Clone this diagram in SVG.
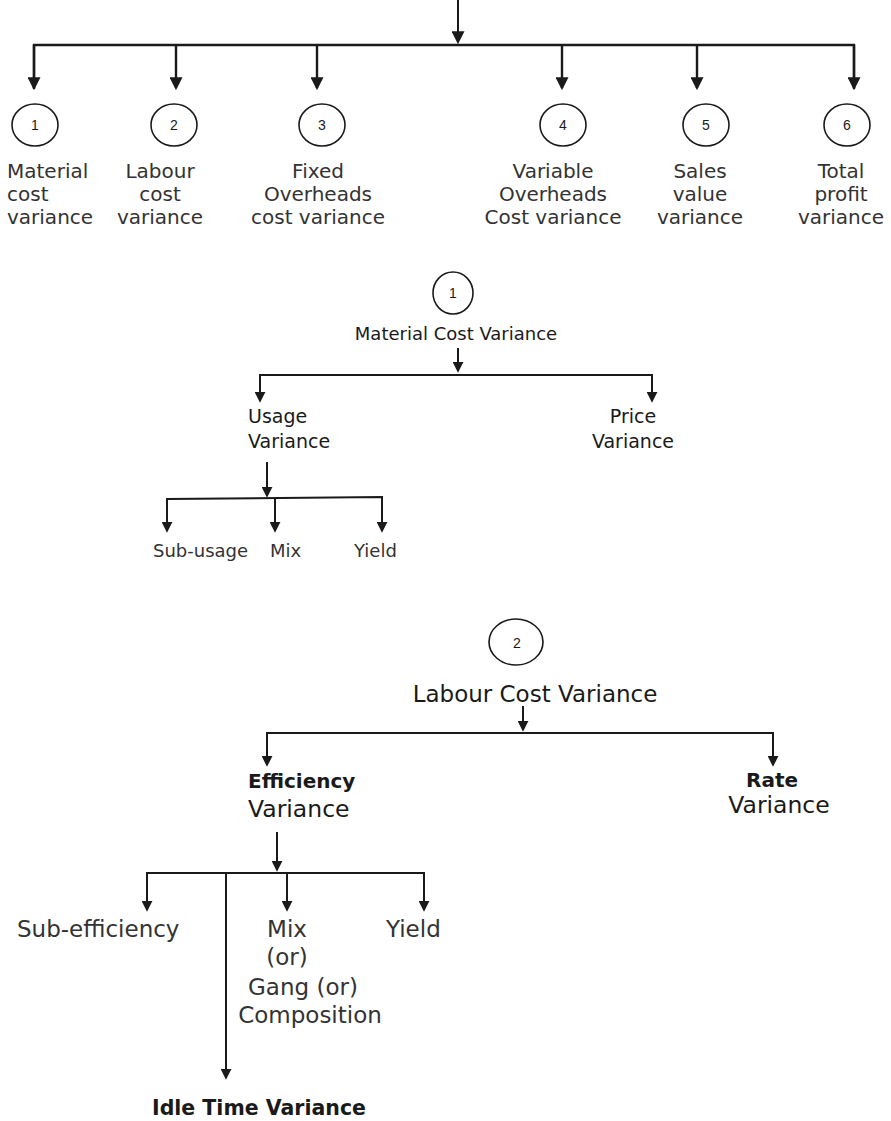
<svg xmlns="http://www.w3.org/2000/svg" width="891" height="1121" viewBox="0 0 891 1121">
<style>
.c{fill:none;stroke:#1a1a1a;stroke-width:1.6}
.ln{fill:none;stroke:#1a1a1a;stroke-width:2}
.lb{stroke-width:2.4}
.n{font-family:"Liberation Sans",Arial,sans-serif;fill:#1a1a1a;text-anchor:middle}
.l{font-family:"DejaVu Sans",sans-serif;fill:#333}
.m{font-family:"DejaVu Sans",sans-serif;fill:#1a1a1a}
.b{font-family:"DejaVu Sans",sans-serif;font-weight:bold;fill:#1a1a1a}
.mid{text-anchor:middle}
</style>
<defs>
<marker id="ah" viewBox="0 0 12 12" markerWidth="13" markerHeight="13" refX="10" refY="6" orient="auto" markerUnits="userSpaceOnUse"><path d="M0,0 L12,6 L0,12 z" fill="#1a1a1a"/></marker>
<marker id="as" viewBox="0 0 12 12" markerWidth="11" markerHeight="11" refX="10" refY="6" orient="auto" markerUnits="userSpaceOnUse"><path d="M0,0 L12,6 L0,12 z" fill="#1a1a1a"/></marker>
</defs>
<g id="connectors">
<path class="ln" d="M458,0 V42" marker-end="url(#ah)"/>
<path class="ln lb" d="M34,89 V45 H854 V89"/>
<path class="ln lb" d="M34,45 V88" marker-end="url(#ah)"/>
<path class="ln lb" d="M176,45 V88" marker-end="url(#ah)"/>
<path class="ln lb" d="M317,45 V88" marker-end="url(#ah)"/>
<path class="ln lb" d="M562,45 V88" marker-end="url(#ah)"/>
<path class="ln lb" d="M697,45 V88" marker-end="url(#ah)"/>
<path class="ln lb" d="M854,45 V88" marker-end="url(#ah)"/>
<path class="ln" d="M458,348 V371" marker-end="url(#as)"/>
<path class="ln" d="M260,401 V375 H652 V401"/>
<path class="ln" d="M260,375 V401" marker-end="url(#as)"/>
<path class="ln" d="M652,375 V401" marker-end="url(#as)"/>
<path class="ln" d="M267,462 V496" marker-end="url(#as)"/>
<path class="ln" d="M167,531 V499 L382,497 V531"/>
<path class="ln" d="M167,499 V531" marker-end="url(#as)"/>
<path class="ln" d="M275,498 V531" marker-end="url(#as)"/>
<path class="ln" d="M382,497 V531" marker-end="url(#as)"/>
<path class="ln" d="M523,706 V730" marker-end="url(#as)"/>
<path class="ln" d="M267,765 V733 H773 V765"/>
<path class="ln" d="M267,733 V765" marker-end="url(#as)"/>
<path class="ln" d="M773,733 V765" marker-end="url(#as)"/>
<path class="ln" d="M277,832 V870" marker-end="url(#as)"/>
<path class="ln" d="M147,910 V873 H424 V910"/>
<path class="ln" d="M147,873 V910" marker-end="url(#as)"/>
<path class="ln" d="M287,873 V910" marker-end="url(#as)"/>
<path class="ln" d="M424,873 V910" marker-end="url(#as)"/>
<path class="ln" d="M226,873 V1078" marker-end="url(#as)"/>
</g>
<g id="n1"><ellipse class="c" cx="35" cy="125" rx="23" ry="21"/><text class="n" x="35" y="130" font-size="14">1</text>
<text class="l" x="7" y="178" font-size="20">Material</text><text class="l" x="7" y="201" font-size="20">cost</text><text class="l" x="7" y="224" font-size="20">variance</text></g>
<g id="n2"><ellipse class="c" cx="174" cy="125" rx="23" ry="21"/><text class="n" x="174" y="130" font-size="14">2</text>
<text class="l mid" x="160" y="178" font-size="20">Labour</text><text class="l mid" x="160" y="201" font-size="20">cost</text><text class="l mid" x="160" y="224" font-size="20">variance</text></g>
<g id="n3"><ellipse class="c" cx="322" cy="125" rx="23" ry="21"/><text class="n" x="322" y="130" font-size="14">3</text>
<text class="l mid" x="318" y="178" font-size="20">Fixed</text><text class="l mid" x="318" y="201" font-size="20">Overheads</text><text class="l mid" x="318" y="224" font-size="20">cost variance</text></g>
<g id="n4"><ellipse class="c" cx="563" cy="125" rx="23" ry="21"/><text class="n" x="563" y="130" font-size="14">4</text>
<text class="l mid" x="553" y="178" font-size="20">Variable</text><text class="l mid" x="553" y="201" font-size="20">Overheads</text><text class="l mid" x="553" y="224" font-size="20">Cost variance</text></g>
<g id="n5"><ellipse class="c" cx="706" cy="125" rx="23" ry="21"/><text class="n" x="706" y="130" font-size="14">5</text>
<text class="l mid" x="700" y="178" font-size="20">Sales</text><text class="l mid" x="700" y="201" font-size="20">value</text><text class="l mid" x="700" y="224" font-size="20">variance</text></g>
<g id="n6"><ellipse class="c" cx="847" cy="125" rx="23" ry="21"/><text class="n" x="847" y="130" font-size="14">6</text>
<text class="l mid" x="841" y="178" font-size="20">Total</text><text class="l mid" x="841" y="201" font-size="20">profit</text><text class="l mid" x="841" y="224" font-size="20">variance</text></g>
<g id="mcv"><ellipse class="c" cx="453" cy="293" rx="20" ry="21"/><text class="n" x="453" y="298" font-size="14">1</text>
<text class="m mid" x="456" y="340" font-size="18">Material Cost Variance</text></g>
<g id="usage"><text class="m" x="248" y="423" font-size="19">Usage</text><text class="m" x="248" y="448" font-size="19">Variance</text></g>
<g id="price"><text class="m mid" x="633" y="423" font-size="19">Price</text><text class="m mid" x="633" y="448" font-size="19">Variance</text></g>
<g id="subusage"><text class="l" x="153" y="557" font-size="18">Sub-usage</text></g>
<g id="mix1"><text class="l" x="270" y="557" font-size="18">Mix</text></g>
<g id="yield1"><text class="l" x="354" y="557" font-size="18">Yield</text></g>
<g id="lcv"><ellipse class="c" cx="516" cy="642" rx="27" ry="23"/><text class="n" x="517" y="648" font-size="14">2</text>
<text class="m mid" x="535" y="702" font-size="23">Labour Cost Variance</text></g>
<g id="eff"><text class="b" x="248" y="788" font-size="20">Efficiency</text><text class="m" x="248" y="817" font-size="23.5">Variance</text></g>
<g id="rate"><text class="b mid" x="772" y="787" font-size="20">Rate</text><text class="m mid" x="779" y="813" font-size="23.5">Variance</text></g>
<g id="subeff"><text class="l" x="17" y="937" font-size="23">Sub-efficiency</text></g>
<g id="mix2"><text class="l mid" x="287" y="937" font-size="23">Mix</text><text class="l mid" x="287" y="965" font-size="23">(or)</text><text class="l mid" x="303" y="995" font-size="23">Gang (or)</text><text class="l mid" x="310" y="1023" font-size="23">Composition</text></g>
<g id="yield2"><text class="l" x="386" y="937" font-size="23">Yield</text></g>
<g id="idle"><text class="b mid" x="259" y="1115" font-size="20.5">Idle Time Variance</text></g>
</svg>
